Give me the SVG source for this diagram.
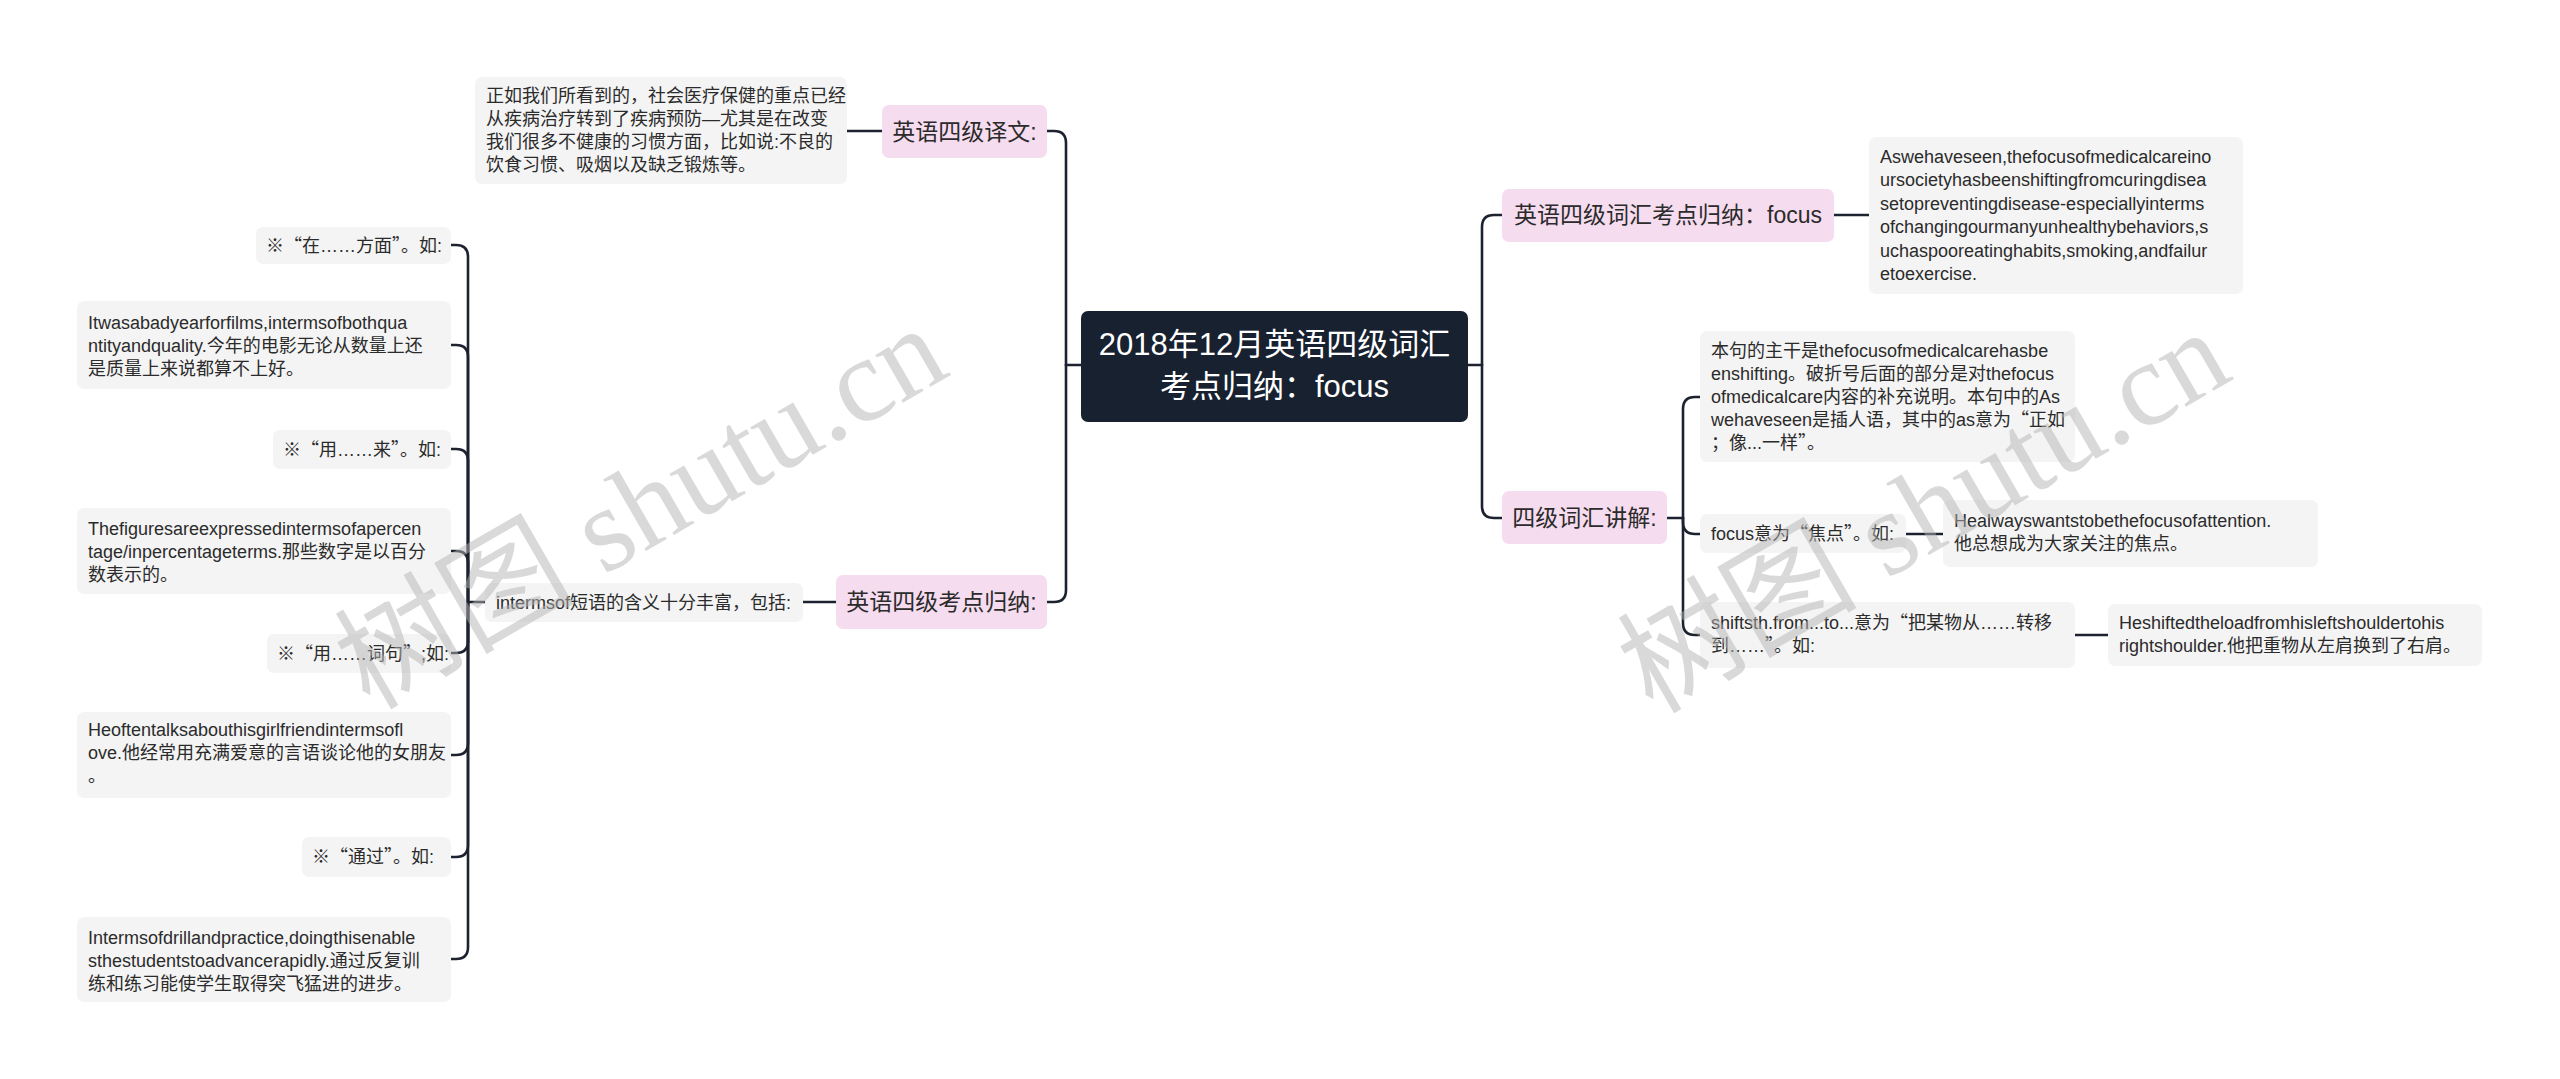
<svg xmlns="http://www.w3.org/2000/svg" width="2560" height="1079" viewBox="0 0 2560 1079">
<defs>
<style>
.t{font-family:"Liberation Sans","Noto Sans CJK SC",sans-serif;font-size:18px;fill:#2b2b2b}
.p{font-family:"Liberation Sans","Noto Sans CJK SC",sans-serif;font-size:23px;fill:#2b2b2b;text-anchor:middle}
.c{font-family:"Liberation Sans","Noto Sans CJK SC",sans-serif;font-size:31px;fill:#ffffff;text-anchor:middle}
.q{font-family:"Noto Sans CJK SC",sans-serif}
.g{fill:#f4f4f4}
.k{fill:#f6dcef}
.ln{fill:none;stroke:#1c2230;stroke-width:2.6;stroke-linecap:round;stroke-linejoin:round}
.wm{font-family:"Liberation Serif","Noto Sans CJK SC",serif;font-size:120px;fill:#b4b4b4;fill-opacity:0.5;text-anchor:middle}
</style>
</defs>
<rect width="2560" height="1079" fill="#ffffff"/>
<g id="connectors" class="ln">
<path d="M1081,365 H1066"/>
<path d="M1066,365 V143 Q1066,131 1054,131 H1047"/>
<path d="M1066,365 V590 Q1066,602 1054,602 H1047"/>
<path d="M1468,365 H1482"/>
<path d="M1482,365 V227 Q1482,215 1494,215 H1502"/>
<path d="M1482,365 V506 Q1482,518 1494,518 H1502"/>
<path d="M882,131 H847"/>
<path d="M836,602 H803"/>
<path d="M485,602 H468"/>
<path d="M468,602 V257 Q468,245 456,245 H451"/>
<path d="M468,602 V357 Q468,345 456,345 H451"/>
<path d="M468,602 V461 Q468,449 456,449 H451"/>
<path d="M468,602 V563 Q468,551 456,551 H451"/>
<path d="M468,602 V641 Q468,653 456,653 H451"/>
<path d="M468,602 V743 Q468,755 456,755 H451"/>
<path d="M468,602 V845 Q468,857 456,857 H451"/>
<path d="M468,602 V947 Q468,959 456,959 H451"/>
<path d="M1834,215 H1869"/>
<path d="M1667,518 H1683"/>
<path d="M1683,518 V409 Q1683,397 1695,397 H1700"/>
<path d="M1683,518 V522 Q1683,534 1695,534 H1700"/>
<path d="M1683,518 V623 Q1683,635 1695,635 H1700"/>
<path d="M1906,534 H1943"/>
<path d="M2075,635 H2108"/>
</g>
<g id="center">
<rect x="1081" y="311" width="387" height="111" rx="7" fill="#18212f"/>
<text class="c" x="1274.5" y="355">2018年12月英语四级词汇</text>
<text class="c" x="1274.5" y="397">考点归纳：focus</text>
</g>
<g id="l1">
<rect class="k" x="882" y="105" width="165" height="53" rx="7"/>
<text class="p" x="964.5" y="139.5">英语四级译文:</text>
</g>
<g id="l1a">
<rect class="g" x="475" y="77" width="372" height="107" rx="7"/>
<text class="t" x="486" y="102">正如我们所看到的，社会医疗保健的重点已经</text>
<text class="t" x="486" y="125">从疾病治疗转到了疾病预防—尤其是在改变</text>
<text class="t" x="486" y="148">我们很多不健康的习惯方面，比如说:不良的</text>
<text class="t" x="486" y="171">饮食习惯、吸烟以及缺乏锻炼等。</text>
</g>
<g id="l2">
<rect class="k" x="836" y="575" width="211" height="54" rx="7"/>
<text class="p" x="941.5" y="610">英语四级考点归纳:</text>
</g>
<g id="l2a">
<rect class="g" x="485" y="583" width="318" height="39" rx="7"/>
<text class="t" x="496" y="609">intermsof短语的含义十分丰富，包括:</text>
</g>
<g id="leaf1">
<rect class="g" x="256" y="227" width="195" height="37" rx="7"/>
<text class="t" x="266" y="252">※<tspan class="q">“</tspan>在……方面<tspan class="q">”</tspan>。如:</text>
</g>
<g id="leaf2">
<rect class="g" x="77" y="301" width="374" height="88" rx="7"/>
<text class="t" x="88" y="329">Itwasabadyearforfilms,intermsofbothqua</text>
<text class="t" x="88" y="352">ntityandquality.今年的电影无论从数量上还</text>
<text class="t" x="88" y="375">是质量上来说都算不上好。</text>
</g>
<g id="leaf3">
<rect class="g" x="273" y="430" width="178" height="39" rx="7"/>
<text class="t" x="283" y="456">※<tspan class="q">“</tspan>用……来<tspan class="q">”</tspan>。如:</text>
</g>
<g id="leaf4">
<rect class="g" x="77" y="508" width="374" height="86" rx="7"/>
<text class="t" x="88" y="535">Thefiguresareexpressedintermsofapercen</text>
<text class="t" x="88" y="558">tage/inpercentageterms.那些数字是以百分</text>
<text class="t" x="88" y="581">数表示的。</text>
</g>
<g id="leaf5">
<rect class="g" x="267" y="634" width="184" height="39" rx="7"/>
<text class="t" x="277" y="660">※<tspan class="q">“</tspan>用……词句<tspan class="q">”</tspan>;如:</text>
</g>
<g id="leaf6">
<rect class="g" x="77" y="712" width="374" height="86" rx="7"/>
<text class="t" x="88" y="736">Heoftentalksabouthisgirlfriendintermsofl</text>
<text class="t" x="88" y="759">ove.他经常用充满爱意的言语谈论他的女朋友</text>
<text class="t" x="88" y="782">。</text>
</g>
<g id="leaf7">
<rect class="g" x="302" y="837" width="149" height="40" rx="7"/>
<text class="t" x="312" y="863">※<tspan class="q">“</tspan>通过<tspan class="q">”</tspan>。如:</text>
</g>
<g id="leaf8">
<rect class="g" x="77" y="917" width="374" height="85" rx="7"/>
<text class="t" x="88" y="944">Intermsofdrillandpractice,doingthisenable</text>
<text class="t" x="88" y="967">sthestudentstoadvancerapidly.通过反复训</text>
<text class="t" x="88" y="990">练和练习能使学生取得突飞猛进的进步。</text>
</g>
<g id="r1">
<rect class="k" x="1502" y="189" width="332" height="53" rx="7"/>
<text class="p" x="1668" y="223">英语四级词汇考点归纳：focus</text>
</g>
<g id="r1a">
<rect class="g" x="1869" y="137" width="374" height="157" rx="7"/>
<text class="t" x="1880" y="163">Aswehaveseen,thefocusofmedicalcareino</text>
<text class="t" x="1880" y="186">ursocietyhasbeenshiftingfromcuringdisea</text>
<text class="t" x="1880" y="210">setopreventingdisease-especiallyinterms</text>
<text class="t" x="1880" y="233">ofchangingourmanyunhealthybehaviors,s</text>
<text class="t" x="1880" y="257">uchaspooreatinghabits,smoking,andfailur</text>
<text class="t" x="1880" y="280">etoexercise.</text>
</g>
<g id="r2">
<rect class="k" x="1502" y="491" width="165" height="53" rx="7"/>
<text class="p" x="1584.5" y="526">四级词汇讲解:</text>
</g>
<g id="r2a">
<rect class="g" x="1700" y="331" width="375" height="131" rx="7"/>
<text class="t" x="1711" y="357">本句的主干是thefocusofmedicalcarehasbe</text>
<text class="t" x="1711" y="380">enshifting。破折号后面的部分是对thefocus</text>
<text class="t" x="1711" y="403">ofmedicalcare内容的补充说明。本句中的As</text>
<text class="t" x="1711" y="426">wehaveseen是插人语，其中的as意为<tspan class="q">“</tspan>正如</text>
<text class="t" x="1711" y="449">；像...一样<tspan class="q">”</tspan>。</text>
</g>
<g id="r2b">
<rect class="g" x="1700" y="514" width="206" height="39" rx="7"/>
<text class="t" x="1711" y="540">focus意为<tspan class="q">“</tspan>焦点<tspan class="q">”</tspan>。如:</text>
</g>
<g id="r2b1">
<rect class="g" x="1943" y="500" width="375" height="67" rx="7"/>
<text class="t" x="1954" y="527">Healwayswantstobethefocusofattention.</text>
<text class="t" x="1954" y="550">他总想成为大家关注的焦点。</text>
</g>
<g id="r2c">
<rect class="g" x="1700" y="602" width="375" height="66" rx="7"/>
<text class="t" x="1711" y="629">shiftsth.from...to...意为<tspan class="q">“</tspan>把某物从……转移</text>
<text class="t" x="1711" y="652">到……<tspan class="q">”</tspan>。如:</text>
</g>
<g id="r2c1">
<rect class="g" x="2108" y="604" width="374" height="62" rx="7"/>
<text class="t" x="2119" y="629">Heshiftedtheloadfromhisleftshouldertohis</text>
<text class="t" x="2119" y="652">rightshoulder.他把重物从左肩换到了右肩。</text>
</g>
<g id="watermarks">
<text class="wm" x="640" y="548" transform="rotate(-30 640 506)">树图 shutu.cn</text>
<text class="wm" x="1923" y="552" transform="rotate(-30 1923 510)">树图 shutu.cn</text>
</g>
</svg>
